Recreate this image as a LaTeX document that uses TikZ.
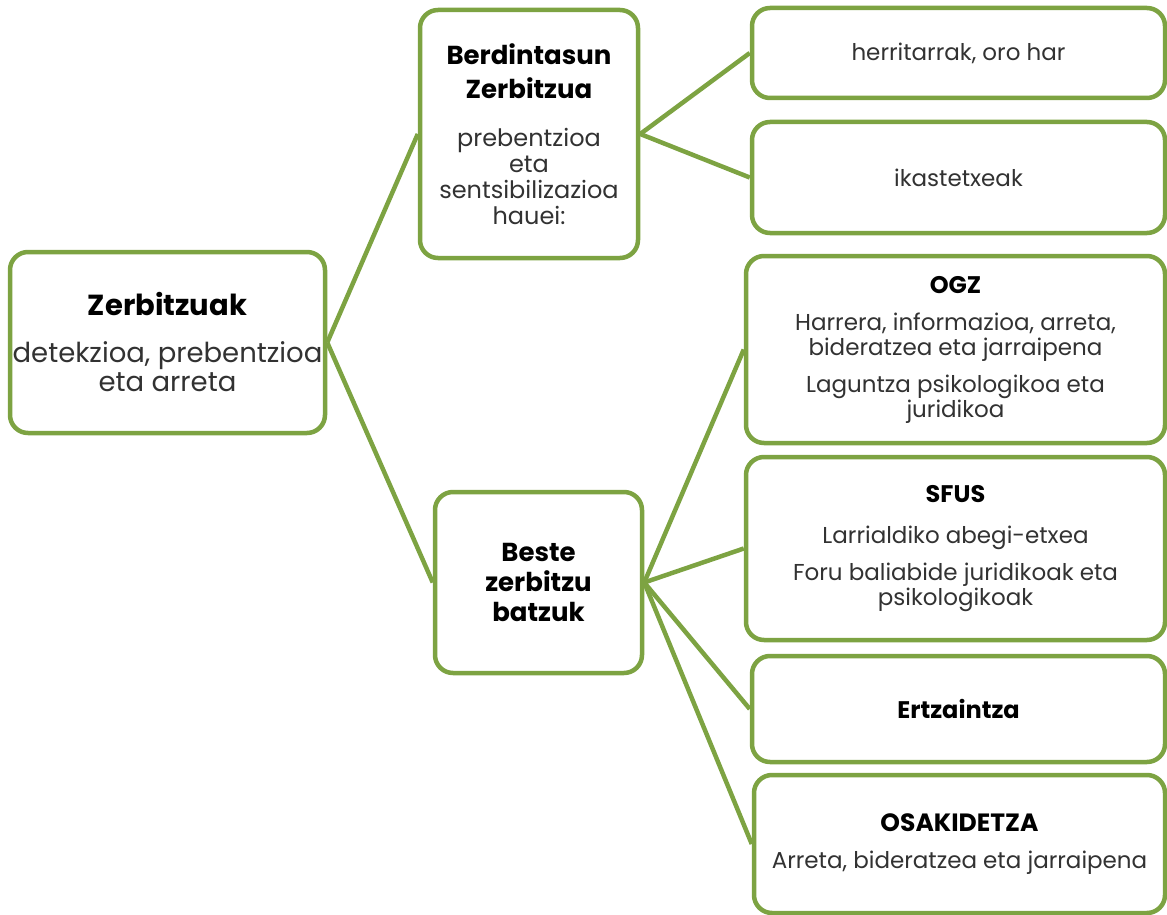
\documentclass[tikz,border=0pt]{standalone}
\usepackage{fontspec}
\setmainfont{Poppins}
\usepackage{tikz}
\usetikzlibrary{positioning}
\definecolor{leafgreen}{RGB}{125,163,66}
\definecolor{bodygray}{RGB}{50,50,50}
\newcommand{\boxtitle}[2]{{\fontsize{#1}{#1}\selectfont\bfseries\color{black}#2}}

\begin{document}
\begin{tikzpicture}[x=1pt, y=-1pt,
        every node/.style={draw=leafgreen, line width=4.5pt, rounded corners=18pt, fill=white,
            align=center, inner sep=0pt, text=bodygray, font=\fontsize{23}{25}\selectfont},
        link/.style={draw=leafgreen, line width=4.5pt},
    ]
    \useasboundingbox (0,0) rectangle (1167,915);
    % left and middle column
    \node (zerb) at (167.5,342.5) [minimum width=315pt, minimum height=181pt, font=\fontsize{27.5}{29}\selectfont]
        {\boxtitle{29}{Zerbitzuak}\\[18pt] detekzioa, prebentzioa\\ eta arreta};
    \node (berd) at (529,134) [minimum width=218pt, minimum height=248pt, font=\fontsize{24}{26}\selectfont]
        {\boxtitle{26}{Berdintasun}\\[8pt] \boxtitle{26}{Zerbitzua}\\[22pt] prebentzioa\\ eta\\ sentsibilizazioa\\ hauei:};
    \node (beste) at (538.5,582.5) [minimum width=207pt, minimum height=181pt]
        {\boxtitle{26}{Beste}\\[5pt] \boxtitle{26}{zerbitzu}\\[5pt] \boxtitle{26}{batzuk}};
    % right column
    \node (herri) at (958.5,53) [minimum width=413pt, minimum height=90pt] {herritarrak, oro har};
    \node (ikas) at (958.5,177.5) [minimum width=413pt, minimum height=111pt] {ikastetxeak};
    \node (ogz) at (955.5,349.5) [minimum width=419pt, minimum height=187pt]
        {\boxtitle{24}{OGZ}\\[12pt] Harrera, informazioa, arreta,\\ bideratzea eta jarraipena\\[12pt]
         Laguntza psikologikoa eta\\ juridikoa};
    \node (sfus) at (955.5,548.5) [minimum width=419pt, minimum height=183pt]
        {\boxtitle{24}{SFUS}\\[16pt] Larrialdiko abegi-etxea\\[12pt] Foru baliabide juridikoak eta\\ psikologikoak};
    \node (ertz) at (958.5,709) [minimum width=413pt, minimum height=106pt] {\boxtitle{24}{Ertzaintza}};
    \node (osak) at (959.5,844) [minimum width=411pt, minimum height=138pt]
        {\boxtitle{25}{OSAKIDETZA}\\[12pt] Arreta, bideratzea eta jarraipena};
    % connectors
    \draw[link] (zerb.east) -- (berd.west);
    \draw[link] (zerb.east) -- (beste.west);
    \draw[link] (berd.east) -- (herri.west);
    \draw[link] (berd.east) -- (ikas.west);
    \foreach \n in {ogz, sfus, ertz, osak}
        \draw[link] (beste.east) -- (\n.west);
\end{tikzpicture}
\end{document}
